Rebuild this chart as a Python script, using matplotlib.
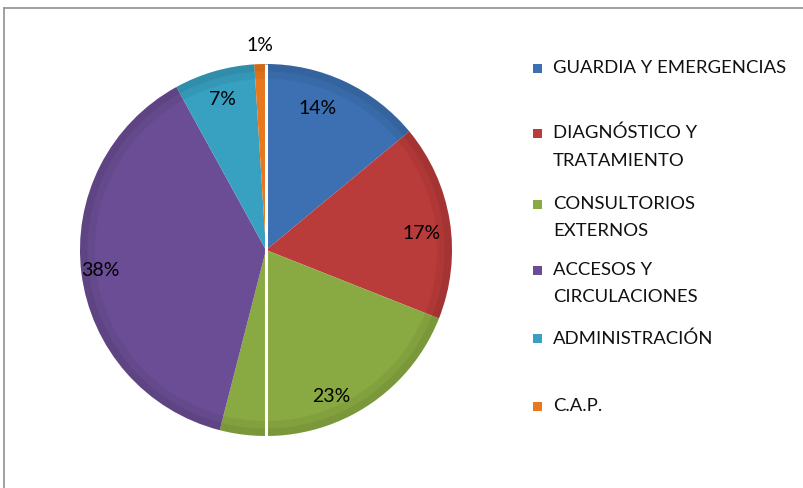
import numpy as np
import matplotlib
matplotlib.use("Agg")
from matplotlib import pyplot as plt
from matplotlib import patches as mpatches
from matplotlib.lines import Line2D

# data
categories = ["GUARDIA Y EMERGENCIAS", "DIAGNÓSTICO Y\nTRATAMIENTO",
              "CONSULTORIOS\nEXTERNOS", "ACCESOS Y\nCIRCULACIONES",
              "ADMINISTRACIÓN", "C.A.P."]
values = [14, 17, 23, 38, 7, 1]
colors = ["#3d70b2", "#b93c3a", "#89aa42", "#6b4d95", "#38a0c0", "#e8781d"]

plt.rcParams['font.family'] = ['Lato', 'DejaVu Sans']

fig = plt.figure(figsize=(8.04, 4.88), dpi=100)
ax = fig.add_axes([80 / 804, 52 / 488, 372 / 804, 372 / 488])

wedges, texts, autotexts = ax.pie(values, colors=colors, startangle=90,
                                  counterclock=False, autopct='%1.0f%%',
                                  pctdistance=0.82, radius=1.0,
                                  wedgeprops=dict(linewidth=0),
                                  textprops=dict(fontsize=14, color='black'))

# soft darker rim to hint at the bevel look
for w in wedges:
    for wd, a in [(0.08, 0.05), (0.04, 0.06)]:
        rim = mpatches.Wedge((0, 0), 1.0, w.theta1, w.theta2, width=wd,
                             facecolor='black', alpha=a, linewidth=0)
        ax.add_patch(rim)

# label placement tweaks (radius / angle shift per slice, like Excel's best fit)
label_r = [0.81, 0.84, 0.86, 0.9, 0.84, 1.1]
label_shift = [5, -3, -3, 0, 0, 0]
for w, t, r, s in zip(wedges, autotexts, label_r, label_shift):
    ang = np.deg2rad((w.theta1 + w.theta2) / 2 + s)
    t.set_position((r * np.cos(ang), r * np.sin(ang)))

ax.plot([0, 0], [-1, 1], color='white', lw=2.2, solid_capstyle='butt')
ax.set_xlim(-1, 1)
ax.set_ylim(-1, 1)
ax.set_aspect('equal')
ax.axis('off')

# legend drawn by hand
leg_y = [68, 133, 204, 270, 338, 406]
for lab, c, y in zip(categories, colors, leg_y):
    fig.patches.append(mpatches.Rectangle((533 / 804, 1 - (y + 5) / 488),
                                          9 / 804, 9 / 488, facecolor=c,
                                          edgecolor='none',
                                          transform=fig.transFigure))
    fig.text(553 / 804, 1 - (y - 8) / 488, lab, fontsize=13.3, va='top',
             ha='left', linespacing=1.85, color='#111111')

# chart frame (cropped on right and bottom)
fig.add_artist(Line2D([4.5 / 804, 4.5 / 804], [0, 1 - 7.5 / 488],
                      transform=fig.transFigure, color='#999999', lw=1.3))
fig.add_artist(Line2D([4.5 / 804, 1], [1 - 7.5 / 488, 1 - 7.5 / 488],
                      transform=fig.transFigure, color='#999999', lw=1.3))

fig.savefig("out.png", dpi=100)
